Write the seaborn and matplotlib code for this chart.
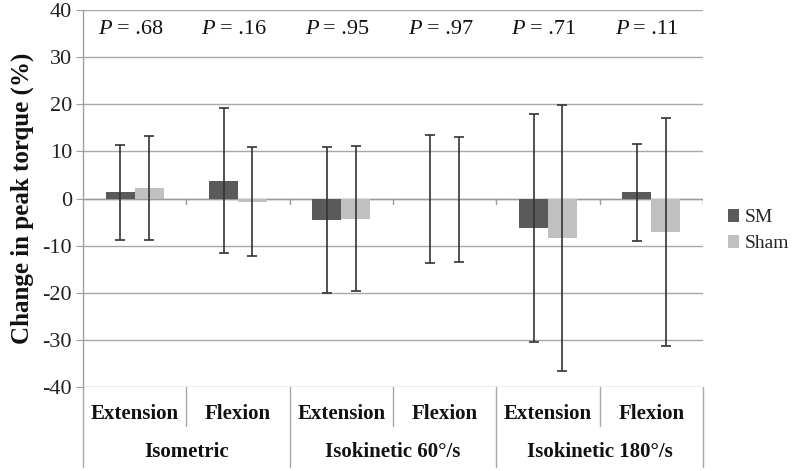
import matplotlib
matplotlib.use("Agg")
import matplotlib.pyplot as plt
import seaborn as sns
import pandas as pd
from matplotlib.lines import Line2D

# ---- data ----
modes = ["Isometric", "Isokinetic 60°/s", "Isokinetic 180°/s"]
actions = ["Extension", "Flexion", "Extension", "Flexion", "Extension", "Flexion"]
keys = ["Isometric Extension", "Isometric Flexion",
        "Isokinetic 60 Extension", "Isokinetic 60 Flexion",
        "Isokinetic 180 Extension", "Isokinetic 180 Flexion"]
groups = ["SM", "Sham"]
sm_mean = [1.3, 3.8, -4.5, -0.1, -6.2, 1.3]
sm_err = [10.1, 15.3, 15.5, 13.6, 24.2, 10.3]
sham_mean = [2.2, -0.7, -4.3, -0.2, -8.3, -7.1]
sham_err = [11.1, 11.6, 15.4, 13.3, 28.2, 24.2]
p_values = [".68", ".16", ".95", ".97", ".71", ".11"]
yticks = [-40, -30, -20, -10, 0, 10, 20, 30, 40]

df = pd.DataFrame({
    "key": keys * 2,
    "group": ["SM"] * 6 + ["Sham"] * 6,
    "value": sm_mean + sham_mean,
})

sns.set_theme(style="white")
plt.rcParams["font.family"] = ["Liberation Serif", "DejaVu Serif"]

fig = plt.figure(figsize=(7.98, 4.71), dpi=100)
ax = fig.add_axes([83 / 798, 1 - 387 / 471, 620 / 798, 377 / 471])

colors = ["#5a5a5a", "#c0c0c0"]
sns.barplot(data=df, x="key", y="value", hue="group", order=keys,
            hue_order=groups, palette=colors, width=0.56, gap=0,
            errorbar=None, saturation=1, ax=ax, linewidth=0, zorder=3)

errs = [sm_err, sham_err]
means = [sm_mean, sham_mean]
bar_containers = list(ax.containers)
for gi, cont in enumerate(bar_containers):
    xs = [p.get_x() + p.get_width() / 2 for p in cont.patches]
    ax.errorbar(xs, means[gi], yerr=errs[gi], fmt="none", ecolor="#333333",
                elinewidth=1.2, capsize=3.5, capthick=1.2, zorder=4)

ax.set_ylim(-40, 40)
ax.set_xlim(-0.5, 5.5)
ax.set_yticks(yticks)
ax.set_yticklabels([str(t) for t in yticks], fontsize=16, color="#222222")
ax.yaxis.grid(True, color="#a8a8a8", linewidth=1.0, zorder=0)
ax.set_axisbelow(True)
ax.tick_params(axis="y", length=5, width=0.8, color="#a0a0a0", pad=3, left=True)
ax.tick_params(axis="x", bottom=False, labelbottom=False)
ax.set_xlabel("")
ax.set_ylabel("Change in peak torque (%)", fontsize=18, fontweight="bold",
              color="#111111", labelpad=6)

for s in ["top", "right", "bottom"]:
    ax.spines[s].set_visible(False)
ax.spines["left"].set_color("#a0a0a0")
ax.spines["left"].set_linewidth(1.0)
ax.spines["left"].set_bounds(-40, 40)

# zero (category) axis with small ticks at boundaries
ax.axhline(0, color="#9a9a9a", linewidth=1.0, zorder=2)
for b in [0.5, 1.5, 2.5, 3.5, 4.5, 5.5]:
    ax.plot([b, b], [0, -1.1], color="#9a9a9a", linewidth=1.0, zorder=2)

# P values
for i, pv in enumerate(p_values):
    ax.text(i - 0.355, 35.8, "P", ha="left", va="center", fontsize=16,
            style="italic", color="#111111")
    ax.text(i - 0.175, 35.8, "= " + pv, ha="left", va="center", fontsize=16,
            color="#111111")

# category table below the axes
trans = ax.get_xaxis_transform()
line_kw = dict(color="#a8a8a8", linewidth=1.0, transform=trans, clip_on=False)
ax.add_line(Line2D([-0.5, -0.5], [0, -0.212], **line_kw))
for b in [0.5, 2.5, 4.5]:
    ax.add_line(Line2D([b, b], [0, -0.103], **line_kw))
for b in [1.5, 3.5, 5.5]:
    ax.add_line(Line2D([b, b], [0, -0.212], **line_kw))

for i, a in enumerate(actions):
    ax.text(i, -0.072, a, transform=trans, ha="center", va="center",
            fontsize=15, fontweight="bold", color="#111111")
for j, m in enumerate(modes):
    ax.text(2 * j + 0.5, -0.172, m, transform=trans, ha="center", va="center",
            fontsize=15, fontweight="bold", color="#111111")

# legend
handles, labels = ax.get_legend_handles_labels()
ax.legend(handles, labels, loc="center left", bbox_to_anchor=(0.912, 0.51),
          bbox_transform=fig.transFigure, frameon=False, fontsize=14,
          handlelength=0.6, handleheight=0.6, handletextpad=0.25,
          labelspacing=0.45, borderaxespad=0, borderpad=0)

fig.savefig("out.png", dpi=100)
